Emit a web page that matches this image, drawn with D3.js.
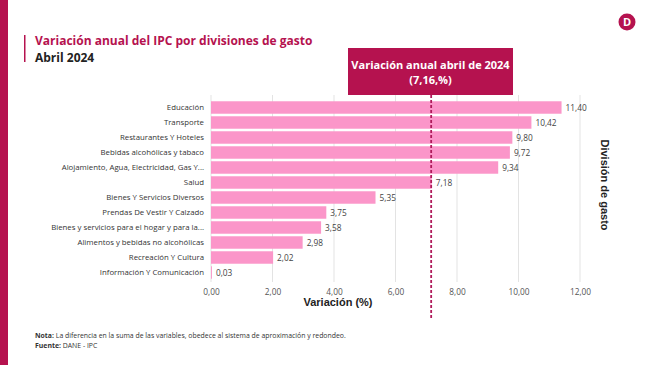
<!DOCTYPE html>
<html><head><meta charset="utf-8">
<script src="https://cdn.jsdelivr.net/npm/d3@7"></script>
<style>body{margin:0;background:#fff;}svg{display:block;font-family:"Open Sans","Noto Sans",sans-serif;}</style>
</head><body>
<svg id="c" width="650" height="365"></svg>
<script>
const categories = ["Educación","Transporte","Restaurantes Y Hoteles","Bebidas alcohólicas y tabaco","Alojamiento, Agua, Electricidad, Gas Y...","Salud","Bienes Y Servicios Diversos","Prendas De Vestir Y Calzado","Bienes y servicios para el hogar y para la...","Alimentos y bebidas no alcohólicas","Recreación Y Cultura","Información Y Comunicación"];
const values = [11.40,10.42,9.80,9.72,9.34,7.18,5.35,3.75,3.58,2.98,2.02,0.03];
const xTicks = [0,2,4,6,8,10,12];
const annualValue = 7.16;

const crimson = "#b5124f";
const svg = d3.select("#c");
const fmt = v => d3.format(".2f")(v).replace(".", ",");

// left strip
svg.append("rect").attr("x",0).attr("y",0).attr("width",8).attr("height",365).attr("fill",crimson);
// title
svg.append("rect").attr("x",24).attr("y",35).attr("width",1.5).attr("height",27).attr("fill",crimson);
svg.append("text").attr("x",35).attr("y",45).attr("fill",crimson).attr("font-weight",700).attr("font-size",12).text("Variación anual del IPC por divisiones de gasto");
svg.append("text").attr("x",35).attr("y",62).attr("fill","#222").attr("font-weight",700).attr("font-size",12).text("Abril 2024");
// logo
svg.append("circle").attr("cx",627).attr("cy",22).attr("r",8.5).attr("fill",crimson);
svg.append("text").attr("x",627).attr("y",26).attr("text-anchor","middle").attr("fill","#fff").attr("font-weight",700).attr("font-size",11).text("D");

const x = d3.scaleLinear().domain([0,12]).range([211,580]);
const y = d3.scaleBand().domain(categories).range([100,280]).paddingInner(0.17).paddingOuter(0.085);

// grid
svg.append("g").selectAll("line").data(xTicks).join("line")
  .attr("x1",d=>x(d)).attr("x2",d=>x(d)).attr("y1",95).attr("y2",282)
  .attr("stroke","#e3e3e3").attr("stroke-width",1);

// x axis
const xa = svg.append("g").attr("transform","translate(0,285)")
  .call(d3.axisBottom(x).tickValues(xTicks).tickFormat(fmt).tickSize(0).tickPadding(4));
xa.select(".domain").remove();
xa.selectAll("text").attr("font-size",8.3).attr("fill","#555").attr("font-family","Open Sans, sans-serif");

// y axis labels
const ya = svg.append("g").attr("transform","translate(211,0)")
  .call(d3.axisLeft(y).tickSize(0).tickPadding(7));
ya.select(".domain").remove();
ya.selectAll("text").attr("font-size",7.8).attr("fill","#333").attr("font-family","Open Sans, sans-serif");

// bars
svg.append("g").selectAll("rect").data(values).join("rect")
  .attr("x",x(0)).attr("y",(d,i)=>y(categories[i]))
  .attr("width",d=>x(d)-x(0)).attr("height",y.bandwidth()).attr("fill","#fb96c9");

// value labels
svg.append("g").selectAll("text").data(values).join("text")
  .attr("x",d=>x(d)+4).attr("y",(d,i)=>y(categories[i])+y.bandwidth()/2+3)
  .attr("font-size",8.3).attr("fill","#444").text(d=>fmt(d));

// reference line
svg.append("line").attr("x1",x(annualValue)).attr("x2",x(annualValue)).attr("y1",95).attr("y2",318)
  .attr("stroke","#b01a5a").attr("stroke-width",1.8).attr("stroke-dasharray","3,2");
svg.append("rect").attr("x",348).attr("y",48).attr("width",165).attr("height",47).attr("fill",crimson);
svg.append("text").attr("x",430.5).attr("y",69).attr("text-anchor","middle").attr("fill","#fff").attr("font-weight",700).attr("font-size",11).text("Variación anual abril de 2024");
svg.append("text").attr("x",430.5).attr("y",84).attr("text-anchor","middle").attr("fill","#fff").attr("font-weight",700).attr("font-size",11).text("(" + fmt(annualValue) + ",%)");

// axis titles
svg.append("text").attr("x",338).attr("y",306).attr("text-anchor","middle").attr("font-weight",700).attr("font-size",11).attr("fill","#222").attr("font-family","Liberation Sans, Arial, sans-serif").text("Variación (%)");
svg.append("text").attr("transform","translate(601,185) rotate(90)").attr("text-anchor","middle").attr("font-weight",700).attr("font-size",11).attr("fill","#222").attr("font-family","Liberation Sans, Arial, sans-serif").text("División de gasto");

// footnotes
const n1 = svg.append("text").attr("x",35).attr("y",338).attr("font-size",6.9).attr("fill","#333");
n1.append("tspan").attr("font-weight",700).text("Nota:");
n1.append("tspan").text(" La diferencia en la suma de las variables, obedece al sistema de aproximación y redondeo.");
const n2 = svg.append("text").attr("x",35).attr("y",348).attr("font-size",6.9).attr("fill","#333");
n2.append("tspan").attr("font-weight",700).text("Fuente:");
n2.append("tspan").text(" DANE - IPC");
</script>
</body></html>
